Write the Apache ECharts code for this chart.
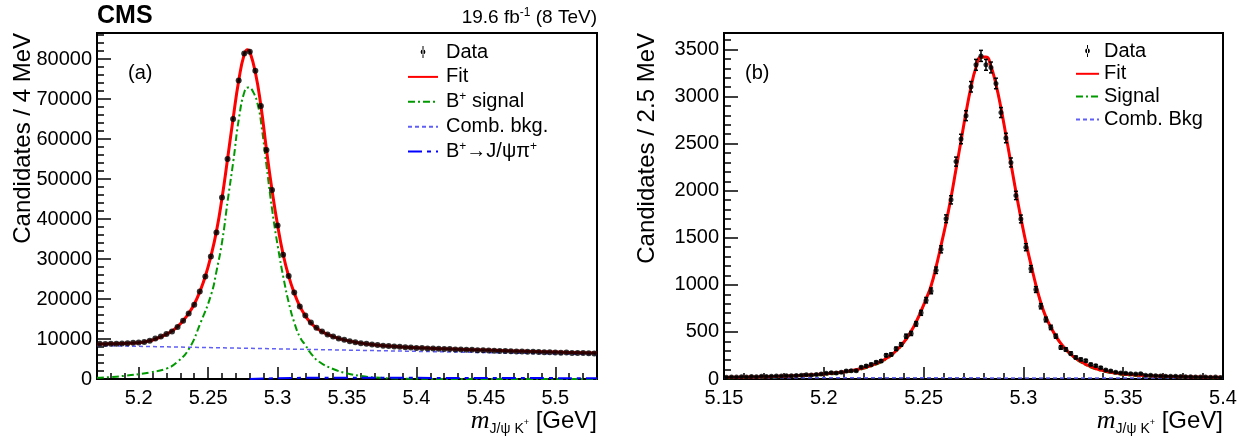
<!DOCTYPE html>
<html><head><meta charset="utf-8">
<script src="https://cdn.jsdelivr.net/npm/echarts@6/dist/echarts.min.js"></script>
<style>html,body{margin:0;padding:0;background:#fff}#c{width:1249px;height:439px}</style>
</head><body><div id="c"></div>
<script>
// ---------------- Panel (a): B+ -> J/psi K+ , 4 MeV bins ----------------
const binsA = { min: 5.17, max: 5.53, width: 0.004 };
const dataA = [8800, 8750, 8800, 8800, 8850, 8950, 9050, 9100, 9250,
  9575, 10150, 10650, 11250, 11900, 13000, 14575, 16400, 18575, 21900,
  25650, 30650, 36650, 45400, 55000, 65000, 74650, 81400, 81800, 77075,
  68250, 57250, 47250, 38400, 31075, 25750, 21650, 18150, 15900,
  14150, 12800, 11900, 11150, 10650, 10100, 9800,
  9450, 9180, 8950, 8800, 8600, 8480, 8320, 8250, 8120, 8050, 7950, 7880,
  7750, 7720, 7640, 7620, 7540, 7500, 7470, 7400, 7380, 7300, 7290, 7200, 7170, 7100,
  7090, 7020, 6990, 6960, 6900, 6880, 6820, 6800, 6740, 6700, 6690, 6630, 6580, 6600,
  6520, 6480, 6470, 6420, 6400];
const fitA_x = [5.170, 5.176, 5.184, 5.192, 5.200, 5.204, 5.208, 5.212, 5.216, 5.220, 5.224, 5.228,
  5.232, 5.236, 5.240, 5.244, 5.248, 5.252, 5.256, 5.260, 5.264, 5.268, 5.272, 5.276, 5.2785, 5.280,
  5.284, 5.288, 5.292, 5.296, 5.300, 5.304, 5.308, 5.312, 5.316, 5.320, 5.324, 5.328, 5.332, 5.336,
  5.340, 5.344, 5.348, 5.352, 5.356, 5.360, 5.364, 5.368, 5.372, 5.376, 5.380, 5.390, 5.400, 5.420,
  5.440, 5.460, 5.480, 5.500, 5.520, 5.530];
const fitA_y = [8755, 8780, 8830, 8920, 9090, 9260, 9550, 10000, 10550, 11200, 12000, 13100,
  14550, 16400, 18700, 21800, 25700, 30700, 36900, 45200, 55000, 65100, 74500, 81150, 82300, 81850,
  76700, 68300, 57400, 47300, 38500, 31200, 25700, 21500, 18200, 15800, 14000, 12750, 11850, 11150,
  10600, 10150, 9780, 9470, 9200, 8970, 8780, 8610, 8470, 8340, 8230, 8000, 7800, 7560,
  7340, 7130, 6930, 6740, 6560, 6470];
const sigA_x = [5.170, 5.180, 5.190, 5.200, 5.2082, 5.220, 5.228, 5.2363, 5.2442, 5.2523, 5.2561, 5.2602,
  5.2641, 5.2682, 5.2723, 5.2764, 5.2790, 5.2826, 5.2862, 5.2886, 5.2922, 5.2962, 5.3003, 5.3042,
  5.3083, 5.3124, 5.3162, 5.3203, 5.3234, 5.330, 5.340, 5.350, 5.360, 5.370, 5.380, 5.400, 5.450, 5.530];
const sigA_y = [300, 500, 800, 1200, 1650, 2600, 4300, 7600, 13750, 21250, 27075, 34575,
  44575, 54575, 65400, 72075, 72900, 71650, 67900, 62900, 52900, 42075, 32900, 25400,
  18750, 13750, 10400, 8325, 6650, 4300, 2500, 1400, 750, 380, 180, 50, 0, 0];
const bkgA_x = [5.17, 5.53];
const bkgA_y = [8350, 6100];
const pipiA_x = [5.28, 5.29, 5.31, 5.34, 5.38, 5.45, 5.53];
const pipiA_y = [0, 120, 260, 320, 300, 250, 200];
const xTicksA = [5.2, 5.25, 5.3, 5.35, 5.4, 5.45, 5.5];
const yTicksA = [0, 10000, 20000, 30000, 40000, 50000, 60000, 70000, 80000];
const yMaxA = 86500;

// ---------------- Panel (b): 2.5 MeV bins ----------------
const binsB = { min: 5.15, max: 5.40, width: 0.0025 };
const dataB = [18, 22, 20, 24, 21, 26, 24, 28, 27, 30, 32, 31, 35, 34, 38, 40, 44, 42, 48, 53,
  60, 67, 63, 71, 85, 88, 88, 124, 138, 155, 177, 191, 251, 261, 321, 367, 455, 484, 586, 703,
  837, 936, 1155, 1377, 1702, 1903, 2309, 2549, 2797, 3104, 3337, 3432, 3337, 3309, 3139,
  2830, 2560, 2300, 1950, 1700, 1400, 1170, 950,
  773, 632, 548, 455, 335, 314, 272, 229, 208, 194, 155, 141, 120, 95, 85, 71, 64, 60, 56, 53, 56, 39,
  40, 35, 33, 30, 28, 30, 26, 24, 25, 22, 20, 22, 18, 20, 16];
const fitB = [17, 18, 18, 19, 20, 21, 22, 23, 24, 26, 27, 29, 31, 33, 35, 38, 41, 44, 47, 51,
  55, 60, 66, 72, 80, 89, 99, 111, 126, 143, 163, 188, 218, 255, 300, 356, 424, 506, 606, 724,
  850, 990, 1190, 1420, 1660, 1930, 2230, 2530, 2830, 3100, 3310, 3420, 3420, 3320, 3130,
  2880, 2590, 2290, 1990, 1710, 1450, 1220, 1000,
  810, 660, 550, 455, 378, 315, 262, 220, 185, 156, 132, 112, 96, 83, 72, 63, 56, 50, 46, 42, 39, 36,
  34, 32, 30, 28.5, 27, 25.5, 24, 23, 22, 21, 20, 19, 18.5, 18, 17.5];
const sigB = [5, 6, 6, 7, 8, 9, 10, 11, 12, 14, 15, 17, 19, 21, 23, 26, 29, 32, 35, 39,
  43, 48, 54, 60, 68, 77, 87, 99, 114, 131, 151, 176, 206, 243, 288, 344, 412, 494, 594, 712,
  838, 978, 1178, 1408, 1648, 1918, 2218, 2518, 2818, 3088, 3298, 3408, 3408, 3308, 3118,
  2868, 2578, 2278, 1978, 1698, 1438, 1208, 988,
  798, 648, 538, 443, 366, 303, 250, 208, 173, 144, 120, 100, 84, 71, 60, 51, 44, 38, 34, 30, 27, 24,
  22, 20, 18, 16.5, 15, 13.5, 12, 11, 10, 9, 8, 7, 6.5, 6, 5.5];
const bkgB_x = [5.15, 5.40];
const bkgB_y = [13, 11];
const xTicksB = [5.15, 5.2, 5.25, 5.3, 5.35, 5.4];
const yTicksB = [0, 500, 1000, 1500, 2000, 2500, 3000, 3500];
const yMaxB = 3675;

// ---------------- helpers ----------------
function centers(b, n) { const o = []; for (let i = 0; i < n; i++) o.push(+(b.min + b.width * (i + 0.5)).toFixed(6)); return o; }
function zip(xs, ys) { return xs.map((x, i) => [x, ys[i]]); }
function steps(a, b, s, dec) { const o = []; const n = Math.round((b - a) / s); for (let i = 0; i <= n; i++) o.push(+(a + s * i).toFixed(dec)); return o; }

const cA = centers(binsA, dataA.length);
const cB = centers(binsB, dataB.length);
const FONT = 'Liberation Sans, Arial, Helvetica, sans-serif';
const BLACK = '#000';

function errRender(cap) {
  return function (params, api) {
    const x = api.value(0), y = api.value(1), e = Math.sqrt(y);
    const p0 = api.coord([x, y - e]), p1 = api.coord([x, y + e]);
    const st = { stroke: BLACK, lineWidth: 1.5 };
    const ch = [{ type: 'line', shape: { x1: p0[0], y1: p0[1], x2: p1[0], y2: p1[1] }, style: st }];
    if (cap > 0) {
      ch.push({ type: 'line', shape: { x1: p0[0] - cap, y1: p0[1], x2: p0[0] + cap, y2: p0[1] }, style: st });
      ch.push({ type: 'line', shape: { x1: p1[0] - cap, y1: p1[1], x2: p1[0] + cap, y2: p1[1] }, style: st });
    }
    return { type: 'group', children: ch };
  };
}

function xAxes(grid, min, max, major, minor) {
  return [{
    type: 'value', gridIndex: grid, min: min, max: max, position: 'bottom',
    axisLine: { show: false }, splitLine: { show: false },
    axisTick: { show: true, inside: true, length: 12, customValues: major, lineStyle: { color: BLACK, width: 1.5 } },
    axisLabel: { customValues: major, formatter: v => String(v), fontSize: 20, color: BLACK, fontFamily: FONT, margin: 9 },
  }, {
    type: 'value', gridIndex: grid, min: min, max: max, position: 'bottom',
    axisLine: { show: false }, splitLine: { show: false },
    axisTick: { show: true, inside: true, length: 6, customValues: minor, lineStyle: { color: BLACK, width: 1.5 } },
    axisLabel: { show: false },
  }];
}
function yAxes(grid, min, max, major, minor, title, pad) {
  return [{
    type: 'value', gridIndex: grid, min: min, max: max, position: 'left',
    axisLine: { show: false }, splitLine: { show: false },
    axisTick: { show: true, inside: true, length: 14, customValues: major, lineStyle: { color: BLACK, width: 1.5 } },
    axisLabel: { customValues: major, formatter: v => String(v), fontSize: 20, color: BLACK, fontFamily: FONT, margin: 5 },
    name: title, nameLocation: 'end', nameGap: 0, nameRotate: 90, nameMoveOverlap: false,
    nameTextStyle: { fontSize: 24, color: BLACK, fontFamily: FONT, align: 'right', verticalAlign: 'bottom', padding: [0, 0, pad, 0] },
  }, {
    type: 'value', gridIndex: grid, min: min, max: max, position: 'left',
    axisLine: { show: false }, splitLine: { show: false },
    axisTick: { show: true, inside: true, length: 7, customValues: minor, lineStyle: { color: BLACK, width: 1.5 } },
    axisLabel: { show: false },
  }];
}

const xName = {
  name: '{m|m}{sub|J/ψ K}{sup|+}{u| [GeV]}', nameLocation: 'end', nameGap: 0, nameMoveOverlap: false,
  nameTextStyle: {
    align: 'right', verticalAlign: 'top', padding: [27, 0, 0, 0], color: BLACK,
    rich: {
      m: { fontFamily: 'Liberation Serif, Times New Roman, serif', fontStyle: 'italic', fontSize: 26, lineHeight: 30, color: BLACK },
      sub: { fontFamily: FONT, fontSize: 14, lineHeight: 14, verticalAlign: 'bottom', color: BLACK },
      sup: { fontFamily: FONT, fontSize: 9, lineHeight: 9, verticalAlign: 'bottom', padding: [0, 0, 9, 0], color: BLACK },
      u: { fontFamily: FONT, fontSize: 24, lineHeight: 30, color: BLACK }
    }
  }
};

const xa = xAxes(0, binsA.min, binsA.max, xTicksA, steps(5.17, 5.53, 0.01, 2));
const xb = xAxes(1, binsB.min, binsB.max, xTicksB, steps(5.15, 5.40, 0.01, 2));
Object.assign(xa[0], xName); Object.assign(xb[0], xName);
const ya = yAxes(0, 0, yMaxA, yTicksA, steps(0, 86000, 2000, 0), 'Candidates / 4 MeV', 62);
const yb = yAxes(1, 0, yMaxB, yTicksB, steps(0, 3600, 100, 0), 'Candidates / 2.5 MeV', 65);

const GREEN = '#009a00', LBLUE = '#5f5ff5', DBLUE = '#0000ff', RED = '#ff0000';
const dashDot = [7, 3, 2, 3];

function lineS(name, data, xi, yi, color, width, type, z, smooth) {
  return { name: name, type: 'line', xAxisIndex: xi, yAxisIndex: yi, data: data, showSymbol: false, symbol: 'none',
    smooth: smooth, lineStyle: { color: color, width: width, type: type }, itemStyle: { color: color }, z: z, silent: true };
}

const richLeg = {
  n: { fontSize: 20, lineHeight: 22, fontFamily: FONT, color: BLACK },
  s: { fontSize: 12, lineHeight: 11, verticalAlign: 'top', fontFamily: FONT, color: BLACK }
};
function legFmt(name) {
  if (name === 'B+ signal') return '{n|B}{s|+}{n| signal}';
  if (name === 'B+→J/ψπ+') return '{n|B}{s|+}{n|→J/ψπ}{s|+}';
  return '{n|' + name.trim() + '}';
}
const dataIconA = 'path://M0,0h0.01v0.01h-0.01z M30,14h-0.01v-0.01h0.01z M14.5,1h1v12h-1z M12.6,7a2.4,2.4 0 1,0 4.8,0a2.4,2.4 0 1,0 -4.8,0z';
const dataIconB = 'path://M0,0h0.01v0.01h-0.01z M23,14h-0.01v-0.01h0.01z M11,1h1v12h-1z M9.1,7a2.4,2.4 0 1,0 4.8,0a2.4,2.4 0 1,0 -4.8,0z';

const option = {
  animation: false,
  backgroundColor: '#fff',
  grid: [
    { left: 97, top: 33, width: 500, height: 346, show: true, borderColor: BLACK, borderWidth: 2, backgroundColor: 'transparent', outerBoundsMode: 'none', containLabel: false },
    { left: 724, top: 33, width: 499, height: 346, show: true, borderColor: BLACK, borderWidth: 2, backgroundColor: 'transparent', outerBoundsMode: 'none', containLabel: false }
  ],
  xAxis: [xa[0], xa[1], xb[0], xb[1]],
  yAxis: [ya[0], ya[1], yb[0], yb[1]],
  legend: [
    { left: 407, top: 41, orient: 'vertical', padding: 0, itemGap: 2.9, itemWidth: 30, itemHeight: 14,
      selectedMode: false, formatter: legFmt, itemStyle: { opacity: 0 },
      textStyle: { fontFamily: FONT, fontSize: 20, lineHeight: 22, color: BLACK, padding: [0, 0, 0, 3], rich: richLeg },
      data: [{ name: 'Data', icon: dataIconA, itemStyle: { opacity: 1, color: BLACK } }, 'Fit', 'B+ signal', 'Comb. bkg.', 'B+→J/ψπ+'] },
    { left: 1075, top: 40, orient: 'vertical', padding: 0, itemGap: 0.8, itemWidth: 23, itemHeight: 14,
      selectedMode: false, formatter: legFmt, itemStyle: { opacity: 0 },
      textStyle: { fontFamily: FONT, fontSize: 20, lineHeight: 22, color: BLACK, rich: richLeg },
      data: [{ name: 'Data ', icon: dataIconB, itemStyle: { opacity: 1, color: BLACK } }, 'Fit ', 'Signal', 'Comb. Bkg'] }
  ],
  graphic: [
    { type: 'text', left: 97, top: 4, style: { text: 'CMS', font: 'bold 25px ' + FONT, fill: BLACK } },
    { type: 'text', right: 1249 - 597, top: 7, style: { text: '{a|19.6 fb}{b|-1}{a| (8 TeV)}', fill: BLACK,
      rich: { a: { fontSize: 19, lineHeight: 22, fontFamily: FONT, color: BLACK }, b: { fontSize: 12, lineHeight: 10, verticalAlign: 'top', fontFamily: FONT, color: BLACK } } } },
    { type: 'text', left: 128, top: 63, style: { text: '(a)', font: '20px ' + FONT, fill: BLACK } },
    { type: 'text', left: 745, top: 63, style: { text: '(b)', font: '20px ' + FONT, fill: BLACK } }
  ],
  series: [
    // panel (a)
    lineS('B+ signal', zip(sigA_x, sigA_y), 0, 0, GREEN, 2, dashDot, 2, true),
    lineS('Comb. bkg.', zip(bkgA_x, bkgA_y), 0, 0, LBLUE, 1.5, [4, 3], 2, false),
    lineS('B+→J/ψπ+', zip(pipiA_x, pipiA_y), 0, 0, DBLUE, 2, [14, 5, 4, 5], 2, true),
    lineS('Fit', zip(fitA_x, fitA_y), 0, 0, RED, 3, 'solid', 3, true),
    { name: 'Data', type: 'scatter', xAxisIndex: 0, yAxisIndex: 0, data: zip(cA, dataA), symbol: 'circle', symbolSize: 6,
      itemStyle: { color: BLACK }, z: 6, silent: true },
    { type: 'custom', xAxisIndex: 0, yAxisIndex: 0, data: zip(cA, dataA), renderItem: errRender(0), z: 5, silent: true },
    // panel (b)
    lineS('Signal', zip(cB, sigB), 2, 2, GREEN, 1.5, dashDot, 2, true),
    lineS('Comb. Bkg', zip(bkgB_x, bkgB_y), 2, 2, LBLUE, 1.5, [4, 3], 2, false),
    lineS('Fit ', zip(cB, fitB), 2, 2, RED, 3, 'solid', 3, true),
    { name: 'Data ', type: 'scatter', xAxisIndex: 2, yAxisIndex: 2, data: zip(cB, dataB), symbol: 'circle', symbolSize: 5,
      itemStyle: { color: BLACK }, z: 6, silent: true },
    { type: 'custom', xAxisIndex: 2, yAxisIndex: 2, data: zip(cB, dataB), renderItem: errRender(2), z: 5, silent: true }
  ]
};
const chart = echarts.init(document.getElementById('c'), null, { renderer: 'canvas' });
chart.setOption(option);
</script>
</body></html>
